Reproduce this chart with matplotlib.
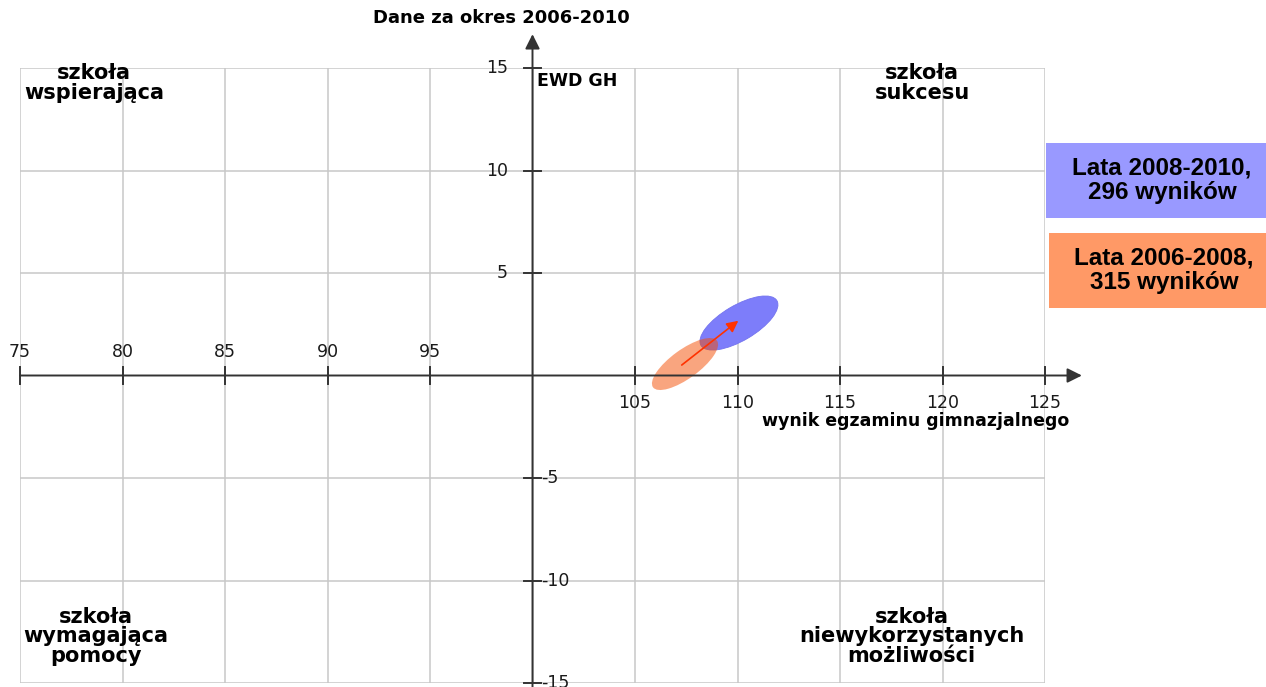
import matplotlib
matplotlib.use("Agg")
import matplotlib.pyplot as plt
from matplotlib.patches import Ellipse, Rectangle

# ── dane ─────────────────────────────────────────────────────────────────────
x_ticks_left = [75, 80, 85, 90, 95]
x_ticks_right = [105, 110, 115, 120, 125]
y_ticks_top = [5, 10, 15]
y_ticks_bottom = [-5, -10, -15]
grid_x = [75, 80, 85, 90, 95, 100, 105, 110, 115, 120, 125]
grid_y = [-15, -10, -5, 5, 10, 15]

# elipsy: środek (wynik egzaminu, EWD), półosie, kąt
ell_old_center = (107.44, 0.56)
ell_old_axes = (1.93, 0.70)
ell_old_angle = 36
ell_new_center = (110.07, 2.56)
ell_new_axes = (2.15, 0.86)
ell_new_angle = 30.5

arrow_start = (107.28, 0.51)
arrow_end = (110.04, 2.67)

legend_new = "Lata 2008-2010,\n296 wyników"
legend_old = "Lata 2006-2008,\n315 wyników"

quadrants = {
    "tl": "szkoła\nwspierająca",
    "tr": "szkoła\nsukcesu",
    "bl": "szkoła\nwymagająca\npomocy",
    "br": "szkoła\nniewykorzystanych\nmożliwości",
}

W, H = 1266, 687
fig = plt.figure(figsize=(W / 100, H / 100), dpi=100)
ax = fig.add_axes([20 / W, 4 / H, 1025 / W, 615 / H])
ax.set_xlim(75, 125)
ax.set_ylim(-15, 15)
ax.axis("off")

grid_kw = dict(color="#c8c8c8", lw=1.1, zorder=0)
for gx in grid_x:
    ax.axvline(gx, **grid_kw)
for gy in grid_y:
    ax.axhline(gy, **grid_kw)

# osie ze strzałkami
axis_col = "#333333"
for xy, xytext in [((126.8, 0), (75, 0)), ((100, 16.65), (100, -15.2))]:
    ann = ax.annotate("", xy=xy, xytext=xytext, annotation_clip=False,
                      arrowprops=dict(arrowstyle="-|>", color=axis_col, lw=1.4,
                                      mutation_scale=22, shrinkA=0, shrinkB=0),
                      zorder=3)
    ann.arrow_patch.set_clip_on(False)

# podziałki
tick = 0.42
for v in x_ticks_left + x_ticks_right:
    ax.plot([v, v], [-tick, tick], color=axis_col, lw=1.4, zorder=3, clip_on=False)
for v in y_ticks_top + y_ticks_bottom:
    ax.plot([100 - tick, 100 + tick], [v, v], color=axis_col, lw=1.4, zorder=3, clip_on=False)

tfs = 12.5
tcol = "#1a1a1a"
for v in x_ticks_left:
    ax.text(v, 1.15, str(v), ha="center", va="center", fontsize=tfs, color=tcol)
for v in x_ticks_right:
    ax.text(v, -1.35, str(v), ha="center", va="center", fontsize=tfs, color=tcol)
for v in y_ticks_top:
    ax.text(98.8, v, str(v), ha="right", va="center", fontsize=tfs, color=tcol)
for v in y_ticks_bottom:
    ax.text(100.4, v, str(v), ha="left", va="center", fontsize=tfs, color=tcol,
            clip_on=False)

# elipsy
blue = Ellipse(ell_new_center, 2 * ell_new_axes[0], 2 * ell_new_axes[1],
               angle=ell_new_angle, facecolor="#7d7dfa", edgecolor="#7373ee",
               lw=0.6, zorder=2)
orange = Ellipse(ell_old_center, 2 * ell_old_axes[0], 2 * ell_old_axes[1],
                 angle=ell_old_angle, facecolor=(0.96, 0.3, 0.0), alpha=0.5,
                 edgecolor="none", zorder=2.1)
ax.add_patch(blue)
ax.add_patch(orange)

ax.annotate("", xy=arrow_end, xytext=arrow_start,
            arrowprops=dict(arrowstyle="-|>", color="#ff3200", lw=1.2,
                            mutation_scale=17, shrinkA=0, shrinkB=0),
            zorder=4)

# podpisy
ax.text(98.5, 17.44, "Dane za okres 2006-2010", ha="center", va="center",
        fontsize=13, fontweight="bold", clip_on=False)
ax.text(100.2, 14.35, "EWD GH", ha="left", va="center", fontsize=12.5, fontweight="bold")
ax.text(126.2, -2.2, "wynik egzaminu gimnazjalnego", ha="right", va="center",
        fontsize=12.5, fontweight="bold", clip_on=False)

qfs = 15
ax.text(78.6, 15.25, quadrants["tl"], ha="center", va="top", fontsize=qfs,
        fontweight="bold", linespacing=1.0)
ax.text(119.0, 15.25, quadrants["tr"], ha="center", va="top", fontsize=qfs,
        fontweight="bold", linespacing=1.0)
ax.text(78.7, -11.3, quadrants["bl"], ha="center", va="top", fontsize=qfs,
        fontweight="bold", linespacing=0.95)
ax.text(118.5, -11.3, quadrants["br"], ha="center", va="top", fontsize=qfs,
        fontweight="bold", linespacing=0.95)

# legenda po prawej
def px_rect(x0, y0, x1, y1, color):
    fig.patches.append(Rectangle((x0 / W, 1 - y1 / H), (x1 - x0) / W, (y1 - y0) / H,
                                 transform=fig.transFigure, facecolor=color,
                                 edgecolor="none"))

px_rect(1046, 143, 1266, 218, "#9999ff")
px_rect(1049, 233, 1266, 308, "#ff9966")
lfs = 17.5
fig.text(1162 / W, 1 - 180 / H, legend_new, ha="center", va="center", fontsize=lfs,
         fontweight="bold", family="Liberation Sans", linespacing=1.1)
fig.text(1164 / W, 1 - 270 / H, legend_old, ha="center", va="center", fontsize=lfs,
         fontweight="bold", family="Liberation Sans", linespacing=1.1)

fig.savefig("out.png", dpi=100)
